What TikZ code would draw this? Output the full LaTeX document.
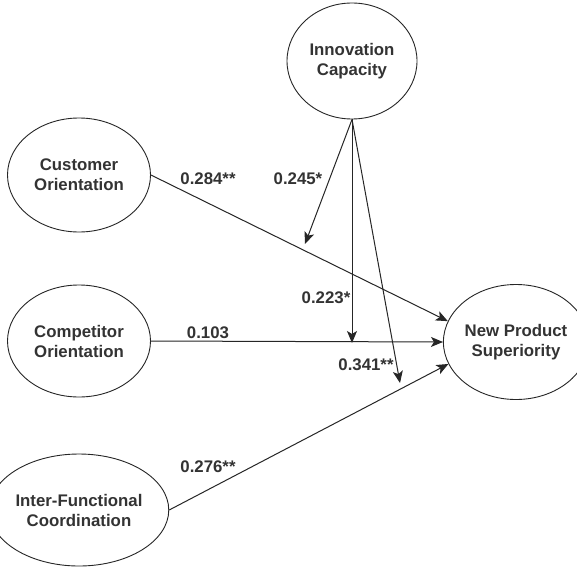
\documentclass[tikz,border=0pt]{standalone}
\usepackage{fontspec}
\setmainfont{Liberation Sans}
\usetikzlibrary{shapes,arrows.meta}

\begin{document}
\begin{tikzpicture}[x=1pt, y=-1pt,
    construct/.style={ellipse, draw=black!85, line width=0.9pt, inner sep=0pt,
        minimum width=143pt, minimum height=114pt, align=center, text=black!80,
        font=\bfseries\fontsize{16.8}{20}\selectfont},
    coef/.style={inner sep=0pt, text=black!80, font=\bfseries\fontsize{16.8}{20}\selectfont},
    link/.style={draw=black!85, line width=1pt, -{Stealth[length=12pt,width=10pt,inset=3pt]}}]
    \useasboundingbox [fill=white] (0,0) rectangle (577,567);
    \node (IC) [construct, minimum width=130pt, minimum height=116pt] at (352, 61) {Innovation\\Capacity};
    \node (CO) [construct] at (79, 175) {Customer\\Orientation};
    \node (CP) [construct, minimum height=112pt] at (79, 341) {Competitor\\Orientation};
    \node (IF) [construct, minimum height=112pt] at (79, 510) {Inter-Functional\\Coordination};
    \node (NP) [construct, minimum width=120pt, minimum height=115pt] at (516, 342) {New Product\\Superiority};
    \coordinate (T1) at (305, 244);
    \coordinate (T2) at (352, 343);
    \coordinate (T3) at (400, 383);
    \draw [link] (CO.east) -- (NP.163);
    \draw [link] (CP.east) -- (NP.west);
    \draw [link] (IF.east) -- (NP.198);
    \draw [link] (IC.south) -- (T1);
    \draw [link] (IC.south) -- (T2);
    \draw [link] (IC.south) -- (T3);
    \node (L1) [coef] at (208, 179) {0.284**};
    \node (L2) [coef] at (298, 179) {0.245*};
    \node (L3) [coef] at (326, 298) {0.223*};
    \node (L4) [coef] at (208, 333) {0.103};
    \node (L5) [coef] at (366, 365) {0.341**};
    \node (L6) [coef] at (208, 467) {0.276**};
\end{tikzpicture}
\end{document}
